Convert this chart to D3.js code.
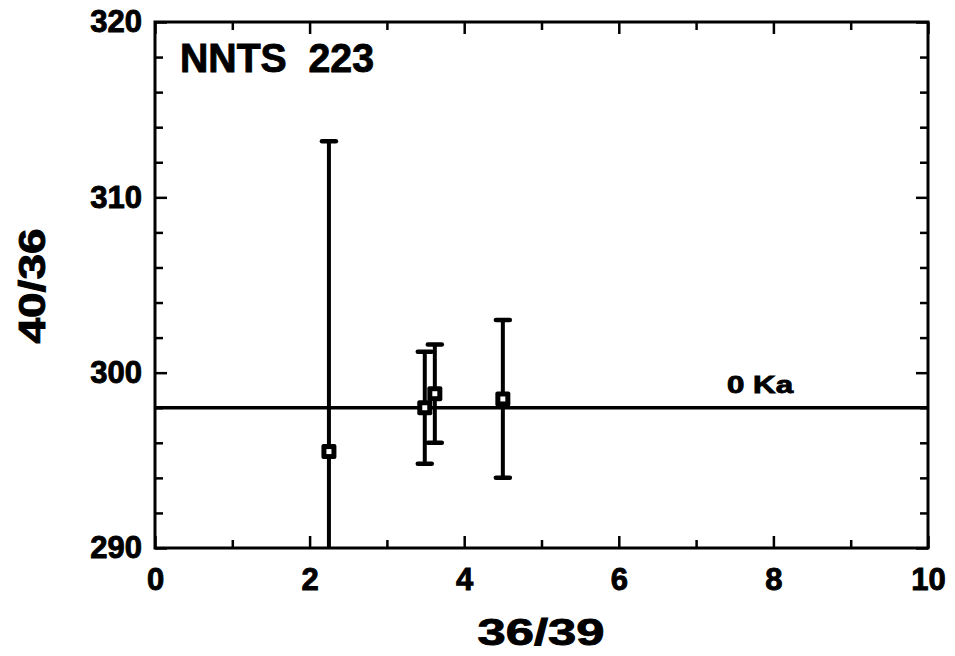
<!DOCTYPE html>
<html>
<head>
<meta charset="utf-8">
<script src="https://cdn.jsdelivr.net/npm/d3@7"></script>
<style>
  html, body { margin: 0; padding: 0; background: #fff; }
  svg { display: block; }
  text { font-family: "Liberation Sans", Arial, Helvetica, sans-serif; font-weight: bold; fill: #000; stroke: #000; stroke-width: 0.9px; }
</style>
</head>
<body>
<svg id="chart" width="955" height="656"></svg>
<script>
// ---- data ----
const ratio3639 = [2.25, 3.49, 3.62, 4.50];
const ratio4036 = [295.5, 298.0, 298.8, 298.5];
const err4036 = [17.7, 3.2, 2.8, 4.5];
const refLineValue = 298;
const refLineLabel = "0 Ka";
const sampleTitle = "NNTS  223";
const xTickLabels = [0, 2, 4, 6, 8, 10];
const yTickLabels = [290, 300, 310, 320];
const xMinorTicks = [1, 3, 5, 7, 9];
const yMinorTicks = [292, 294, 296, 298, 302, 304, 306, 308, 312, 314, 316, 318];
const xTitle = "36/39";
const yTitle = "40/36";

// ---- layout ----
const svg = d3.select("#chart");
const L = 155, R = 928, T = 22, B = 548;
const x = d3.scaleLinear().domain([0, 10]).range([L, R]);
const y = d3.scaleLinear().domain([290, 320]).range([B, T]);

svg.append("defs").append("clipPath").attr("id", "plotclip")
  .append("rect").attr("x", L).attr("y", T).attr("width", R - L).attr("height", B - T);

function styleAxis(g) {
  g.selectAll(".domain").remove();
  g.selectAll(".tick line").attr("stroke", "#000").attr("stroke-width", 2.5);
}
function styleLabels(g) {
  g.selectAll("text").attr("font-size", 31).attr("font-weight", "bold").attr("fill", "#000")
    .attr("font-family", '"Liberation Sans", Arial, sans-serif');
}

// bottom
svg.append("g").attr("transform", `translate(0,${B})`)
  .call(d3.axisBottom(x).tickValues(xTickLabels).tickSize(-12).tickPadding(20).tickFormat(d3.format("d")))
  .call(styleAxis).call(styleLabels);
svg.append("g").attr("transform", `translate(0,${B})`)
  .call(d3.axisBottom(x).tickValues(xMinorTicks).tickSize(-8).tickFormat(""))
  .call(styleAxis);
// top
svg.append("g").attr("transform", `translate(0,${T})`)
  .call(d3.axisTop(x).tickValues(xTickLabels).tickSize(-12).tickFormat(""))
  .call(styleAxis);
svg.append("g").attr("transform", `translate(0,${T})`)
  .call(d3.axisTop(x).tickValues(xMinorTicks).tickSize(-8).tickFormat(""))
  .call(styleAxis);
// left
svg.append("g").attr("transform", `translate(${L},0)`)
  .call(d3.axisLeft(y).tickValues(yTickLabels).tickSize(-12).tickPadding(13).tickFormat(d3.format("d")))
  .call(styleAxis).call(styleLabels);
svg.append("g").attr("transform", `translate(${L},0)`)
  .call(d3.axisLeft(y).tickValues(yMinorTicks).tickSize(-8).tickFormat(""))
  .call(styleAxis);
// right
svg.append("g").attr("transform", `translate(${R},0)`)
  .call(d3.axisRight(y).tickValues(yTickLabels).tickSize(-12).tickFormat(""))
  .call(styleAxis);
svg.append("g").attr("transform", `translate(${R},0)`)
  .call(d3.axisRight(y).tickValues(yMinorTicks).tickSize(-8).tickFormat(""))
  .call(styleAxis);

// frame
svg.append("rect").attr("x", L).attr("y", T).attr("width", R - L).attr("height", B - T)
  .attr("fill", "none").attr("stroke", "#000").attr("stroke-width", 3);

// reference line
svg.append("line")
  .attr("x1", x(0)).attr("x2", x(10))
  .attr("y1", y(refLineValue)).attr("y2", y(refLineValue))
  .attr("stroke", "#000").attr("stroke-width", 3.5);
svg.append("text")
  .attr("x", x(7.4)).attr("y", y(refLineValue) - 15)
  .attr("font-size", 24)
  .attr("textLength", 66).attr("lengthAdjust", "spacingAndGlyphs")
  .text(refLineLabel);

// title
svg.append("text")
  .attr("x", 180).attr("y", 72)
  .attr("font-size", 40)
  .attr("xml:space", "preserve").style("white-space", "pre")
  .attr("textLength", 194).attr("lengthAdjust", "spacingAndGlyphs")
  .text(sampleTitle);

// data
const data = ratio3639.map((v, i) => ({ x: v, y: ratio4036[i], e: err4036[i] }));
const pts = svg.append("g").attr("clip-path", "url(#plotclip)");
const capW = 7;
pts.selectAll(".bar").data(data).join("line")
  .attr("x1", d => x(d.x)).attr("x2", d => x(d.x))
  .attr("y1", d => y(d.y + d.e)).attr("y2", d => y(d.y - d.e))
  .attr("stroke", "#000").attr("stroke-width", 4);
pts.selectAll(".capTop").data(data).join("line")
  .attr("x1", d => x(d.x) - capW).attr("x2", d => x(d.x) + capW)
  .attr("y1", d => y(d.y + d.e)).attr("y2", d => y(d.y + d.e))
  .attr("stroke", "#000").attr("stroke-width", 4.5).attr("stroke-linecap", "round");
pts.selectAll(".capBot").data(data).join("line")
  .attr("x1", d => x(d.x) - capW).attr("x2", d => x(d.x) + capW)
  .attr("y1", d => y(d.y - d.e)).attr("y2", d => y(d.y - d.e))
  .attr("stroke", "#000").attr("stroke-width", 4.5).attr("stroke-linecap", "round");
pts.selectAll(".mk").data(data).join("rect")
  .attr("x", d => x(d.x) - 7.5).attr("y", d => y(d.y) - 7.5)
  .attr("width", 15).attr("height", 15).attr("rx", 2)
  .attr("fill", "#000");
pts.selectAll(".mkIn").data(data).join("rect")
  .attr("x", d => x(d.x) - 2.5).attr("y", d => y(d.y) - 2.5)
  .attr("width", 5).attr("height", 5)
  .attr("fill", "#fff");

// axis titles
svg.append("text")
  .attr("x", 541).attr("y", 645)
  .attr("text-anchor", "middle")
  .attr("font-size", 36)
  .attr("textLength", 127).attr("lengthAdjust", "spacingAndGlyphs")
  .text(xTitle);
svg.append("text")
  .attr("transform", "translate(45,286) rotate(-90)")
  .attr("text-anchor", "middle")
  .attr("font-size", 36)
  .attr("textLength", 115).attr("lengthAdjust", "spacingAndGlyphs")
  .text(yTitle);
</script>
</body>
</html>
